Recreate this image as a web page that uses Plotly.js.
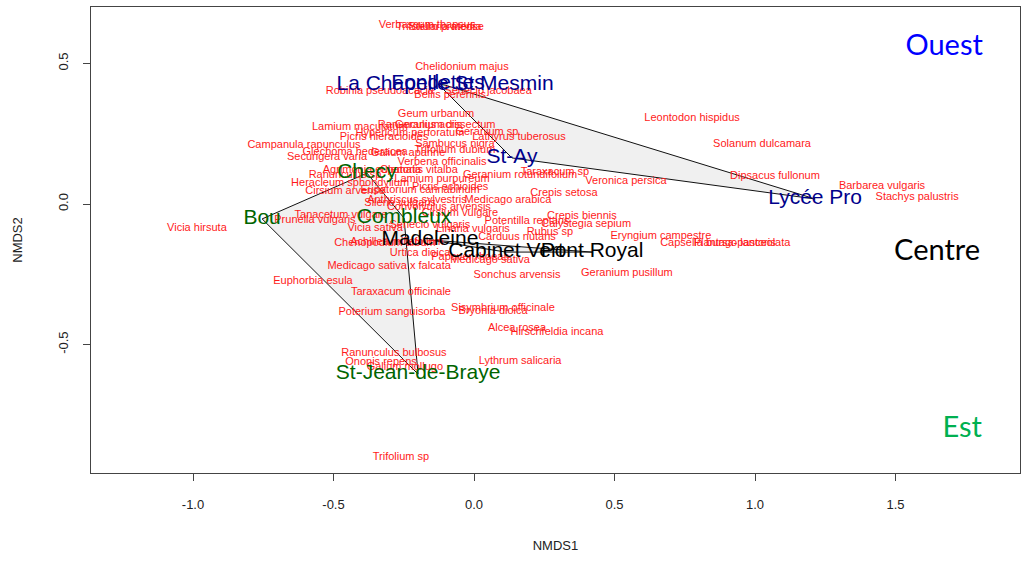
<!DOCTYPE html>
<html>
<head>
<meta charset="utf-8">
<script src="https://cdn.plot.ly/plotly-3.0.1.min.js"></script>
<style>html,body{margin:0;padding:0;background:#fff;}#chart{width:1029px;height:563px;}</style>
</head>
<body>
<div id="chart"></div>
<script>
// Species scores (NMDS1, NMDS2)
var speciesNames = ["Verbascum thapsus","Trifolium pratense","Stellaria media","Chelidonium majus","Robinia pseudoacacia","Bellis perennis","Senecio jacobaea","Geum urbanum","Lamium maculatum","Ranunculus acris","Geranium dissectum","Picris hieracioides","Hypericum perforatum","Geranium sp","Lathyrus tuberosus","Campanula rapunculus","Sambucus nigra","Glechoma hederacea","Galium aparine","Trifolium dubium","Securigera varia","Verbena officinalis","Taraxacum sp","Geranium rotundifolium","Veronica persica","Leontodon hispidus","Solanum dulcamara","Dipsacus fullonum","Barbarea vulgaris","Stachys palustris","Crepis setosa","Crepis biennis","Calystegia sepium","Potentilla reptans","Rubus sp","Carduus nutans","Linaria vulgaris","Eryngium campestre","Capsella bursa-pastoris","Plantago lanceolata","Geranium pusillum","Sonchus arvensis","Medicago sativa","Medicago sativa x falcata","Euphorbia esula","Taraxacum officinale","Vicia hirsuta","Prunella vulgaris","Tanacetum vulgare","Vicia sativa","Achillea millefolium","Chenopodium album","Urtica dioica","Papaver rhoeas","Sisymbrium officinale","Bryonia dioica","Poterium sanguisorba","Alcea rosea","Hirschfeldia incana","Ranunculus bulbosus","Ononis repens","Galium mollugo","Lythrum salicaria","Trifolium sp","Clematis vitalba","Agrimonia eupatoria","Ranunculus sp","Heracleum sphondylium","Cirsium arvense","Lamium purpureum","Picris echioides","Anthriscus sylvestris","Medicago arabica","Silene vulgaris","Convolvulus arvensis","Cirsium vulgare","Senecio vulgaris","Eupatorium cannabinum"];
var speciesX = [-0.167,-0.121,-0.103,-0.043,-0.335,-0.085,0.050,-0.135,-0.406,-0.192,-0.103,-0.320,-0.228,0.046,0.160,-0.605,-0.068,-0.423,-0.235,-0.068,-0.523,-0.114,0.288,0.164,0.541,0.776,1.025,1.071,1.452,1.577,0.320,0.384,0.399,0.189,0.270,0.153,-0.004,0.665,0.868,0.954,0.544,0.153,0.057,-0.302,-0.573,-0.260,-0.986,-0.566,-0.473,-0.352,-0.274,-0.317,-0.192,-0.014,0.103,0.068,-0.292,0.153,0.295,-0.285,-0.331,-0.246,0.164,-0.260,-0.196,-0.363,-0.459,-0.441,-0.459,-0.114,-0.085,-0.203,0.121,-0.263,-0.125,-0.050,-0.157,-0.192];
var speciesY = [0.637,0.630,0.630,0.488,0.402,0.388,0.402,0.320,0.274,0.281,0.281,0.238,0.253,0.256,0.238,0.210,0.214,0.185,0.181,0.192,0.167,0.149,0.114,0.103,0.082,0.306,0.214,0.100,0.064,0.025,0.039,-0.043,-0.071,-0.060,-0.100,-0.117,-0.089,-0.114,-0.139,-0.139,-0.246,-0.253,-0.199,-0.221,-0.274,-0.313,-0.085,-0.057,-0.039,-0.085,-0.135,-0.139,-0.174,-0.189,-0.370,-0.381,-0.384,-0.441,-0.456,-0.530,-0.562,-0.580,-0.559,-0.900,0.121,0.121,0.103,0.075,0.046,0.089,0.060,0.014,0.014,0.004,-0.011,-0.032,-0.075,0.050];

// Site scores by group
var ouestSites = ["La Chapelle St Mesmin","Fondettes","St-Ay","Lycée Pro"];
var ouestX = [-0.103,-0.128,0.135,1.214];
var ouestY = [0.423,0.427,0.164,0.018];
var centreSites = ["Madeleine","Cabinet Vert","Pont Royal"];
var centreX = [-0.157,0.114,0.420];
var centreY = [-0.128,-0.171,-0.171];
var estSites = ["Bou","Checy","Combleux","St-Jean-de-Braye"];
var estX = [-0.754,-0.381,-0.249,-0.199];
var estY = [-0.053,0.110,-0.050,-0.605];

// Region labels
var regionNames = ["Ouest","Centre","Est"];
var regionX = [1.673,1.648,1.737];
var regionY = [0.555,-0.174,-0.804];

var xTicks = [-1.0,-0.5,0.0,0.5,1.0,1.5];
var xTickText = ["-1.0","-0.5","0.0","0.5","1.0","1.5"];
var yTicks = [-0.5,0.0,0.5];
var yTickText = ["-0.5","0.0","0.5"];

function hull(xs, ys){
  var p = xs.map(function(x,i){return [x, ys[i]];});
  p.sort(function(a,b){return a[0]-b[0] || a[1]-b[1];});
  function cross(o,a,b){return (a[0]-o[0])*(b[1]-o[1])-(a[1]-o[1])*(b[0]-o[0]);}
  var lower=[], upper=[];
  p.forEach(function(pt){while(lower.length>=2 && cross(lower[lower.length-2],lower[lower.length-1],pt)<=0) lower.pop(); lower.push(pt);});
  for (var i=p.length-1;i>=0;i--){var pt=p[i]; while(upper.length>=2 && cross(upper[upper.length-2],upper[upper.length-1],pt)<=0) upper.pop(); upper.push(pt);}
  upper.pop(); lower.pop();
  var h = lower.concat(upper); h.push(h[0]);
  return {x:h.map(function(q){return q[0];}), y:h.map(function(q){return q[1];})};
}

var traces = [];
[[ouestX,ouestY],[centreX,centreY],[estX,estY]].forEach(function(g){
  var h = hull(g[0], g[1]);
  traces.push({type:'scatter', mode:'lines', x:h.x, y:h.y, fill:'toself', fillcolor:'#f0f0f0',
    line:{color:'#111', width:1}, hoverinfo:'skip', showlegend:false});
});
traces.push({type:'scatter', mode:'text', x:speciesX, y:speciesY, text:speciesNames,
  textposition:'middle center', textfont:{family:'Liberation Sans, Arial, sans-serif', size:11, color:'#ff1a1a'},
  hoverinfo:'skip', showlegend:false});
var siteFont = 'Liberation Sans, Arial, sans-serif';
traces.push({type:'scatter', mode:'text', x:ouestX, y:ouestY, text:ouestSites, textposition:'middle center',
  textfont:{family:siteFont, size:21, color:'#00008b'}, hoverinfo:'skip', showlegend:false});
traces.push({type:'scatter', mode:'text', x:centreX, y:centreY, text:centreSites, textposition:'middle center',
  textfont:{family:siteFont, size:21, color:'#000000'}, hoverinfo:'skip', showlegend:false});
traces.push({type:'scatter', mode:'text', x:estX, y:estY, text:estSites, textposition:'middle center',
  textfont:{family:siteFont, size:21, color:'#006400'}, hoverinfo:'skip', showlegend:false});
traces.push({type:'scatter', mode:'text', x:regionX, y:regionY, text:regionNames, textposition:'middle center',
  textfont:{family:'Lato, Liberation Sans, sans-serif', size:29, color:['#0000ff','#000000','#00b050']},
  hoverinfo:'skip', showlegend:false});

var axisFont = {family:'Liberation Sans, Arial, sans-serif', size:13, color:'#222'};
var layout = {
  width:1029, height:563,
  margin:{l:91, r:9, t:7, b:90, pad:0},
  paper_bgcolor:'#fff', plot_bgcolor:'#fff',
  showlegend:false,
  xaxis:{range:[-1.363,1.943], tickvals:xTicks, ticktext:xTickText, ticks:'outside', ticklen:7, tickcolor:'#444',
    showgrid:false, zeroline:false, showline:true, mirror:true, linecolor:'#444', linewidth:1,
    tickfont:axisFont, ticklabelstandoff:12, automargin:false,
    title:{text:'NMDS1', font:axisFont, standoff:30}},
  yaxis:{range:[-0.957,0.701], tickvals:yTicks, ticktext:yTickText, ticks:'outside', ticklen:7, tickcolor:'#444',
    showgrid:false, zeroline:false, showline:true, mirror:true, linecolor:'#444', linewidth:1,
    tickfont:axisFont, tickangle:-90, ticklabelstandoff:10, automargin:false,
    title:{text:'NMDS2', font:axisFont, standoff:30}}
};
Plotly.newPlot('chart', traces, layout, {staticPlot:true, displayModeBar:false});
</script>
</body>
</html>
